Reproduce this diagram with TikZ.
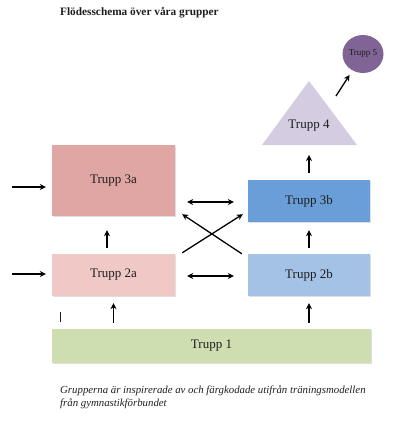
\documentclass[tikz,border=0pt]{standalone}
\usepackage{fontspec}
\setmainfont{Liberation Serif}
\usetikzlibrary{arrows.meta,shapes.geometric,shadows}
\definecolor{c3a}{HTML}{E0A6A4}
\definecolor{c2a}{HTML}{F0C8C6}
\definecolor{c3b}{HTML}{6A9ED8}
\definecolor{c2b}{HTML}{A3C2E6}
\definecolor{c1}{HTML}{CFDEB1}
\definecolor{c4}{HTML}{D4CCE0}
\definecolor{c5}{HTML}{806496}
\definecolor{txt}{HTML}{1E1E1E}
\tikzset{
  box/.style={rectangle, draw=none, text=txt, font=\fontsize{13}{15}\selectfont,
    drop shadow={shadow xshift=0.6pt, shadow yshift=-1.2pt, opacity=0.25}},
  arr/.style={line width=1.3pt, -{Stealth[length=6pt,width=6pt]}},
  arrb/.style={line width=1.3pt, {Stealth[length=6pt,width=6pt]}-{Stealth[length=6pt,width=6pt]}}
}
\begin{document}
\begin{tikzpicture}[x=1pt,y=-1pt]
\useasboundingbox (0,0) rectangle (404,422);
% title
\node[anchor=west, inner sep=0pt, text=txt, font=\fontsize{11.3}{13}\selectfont\bfseries] (title) at (60,13) {Flödesschema över våra grupper};
% boxes
\node[box, fill=c3a, minimum width=123pt, minimum height=71pt] (t3a) at (113.5,180.5) {Trupp 3a};
\node[box, fill=c3b, minimum width=122pt, minimum height=42pt] (t3b) at (309,201) {Trupp 3b};
\node[box, fill=c2a, minimum width=123pt, minimum height=42pt] (t2a) at (113.5,275) {Trupp 2a};
\node[box, fill=c2b, minimum width=122pt, minimum height=42pt] (t2b) at (309,275) {Trupp 2b};
\node[box, fill=c1, minimum width=319pt, minimum height=34pt] (t1) at (211.5,346) {Trupp 1};
% triangle Trupp 4
\fill[c4] (309,81) -- (357,145) -- (262,145) -- cycle;
\coordinate (t4b) at (309,145);
\coordinate (t4r) at (336,96);
\node[text=txt, font=\fontsize{13}{15}\selectfont] (t4) at (309,126) {Trupp 4};
% ellipse Trupp 5
\node[ellipse, fill=c5, minimum width=41pt, minimum height=38pt, inner sep=0pt, text=txt, font=\fontsize{9}{10}\selectfont] (t5) at (363,54) {Trupp 5};
% incoming arrows
\coordinate (in3) at (12,187);
\coordinate (in2) at (12,274);
\draw[arr, shorten >=6pt] (in3) -- (in3 -| t3a.west);
\draw[arr, shorten >=6pt] (in2) -- (in2 -| t2a.west);
% vertical arrows
\draw[arr] ([xshift=-6.5pt,yshift=6pt]t2a.north) -- ([xshift=-6.5pt,yshift=-14pt]t3a.south);
\draw[arr] ([yshift=6pt]t2b.north) -- ([yshift=-8pt]t3b.south);
\draw[arr] ([yshift=7pt]t3b.north) -- ([yshift=-10pt]t4b);
\draw[arr, shorten >=5.3pt] (t4r) -- (t5);
\draw[arr] ([xshift=-98pt,yshift=6pt]t1.north) -- ([yshift=-7pt]t2a.south);
\draw[arr] ([xshift=97.5pt,yshift=6pt]t1.north) -- ([yshift=-7pt]t2b.south);
% horizontal double arrows
\draw[arrb, shorten <=12pt, shorten >=14pt] ([yshift=-21.5pt]t3a.east) -- ([yshift=-1pt]t3b.west);
\draw[arrb, shorten <=12pt, shorten >=14pt] ([yshift=-1pt]t2a.east) -- ([yshift=-1pt]t2b.west);
% cross arrows
\draw[arr] ([xshift=7pt,yshift=1pt]t2a.north east) -- ([xshift=-5pt,yshift=8pt]t3b.south west);
\draw[arr] ([xshift=-6pt]t2b.north west) -- ([xshift=7pt,yshift=2pt]t3a.south east);
% stray cursor mark
\draw[line width=0.7pt, txt] (60,312) -- (60,322);
% caption
\node[anchor=north west, inner sep=0pt, align=left, text=txt, font=\fontsize{10.8}{13}\selectfont\itshape] (cap) at (60,385) {Grupperna är inspirerade av och färgkodade utifrån träningsmodellen\\från gymnastikförbundet};
\end{tikzpicture}
\end{document}
